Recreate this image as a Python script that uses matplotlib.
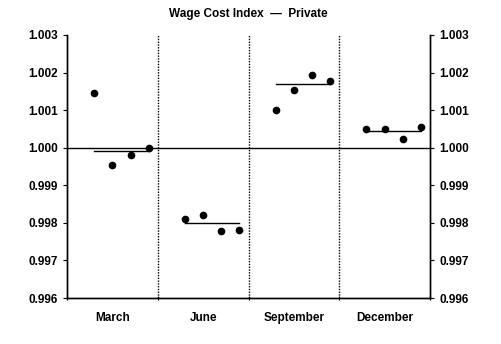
import numpy as np
import matplotlib.pyplot as plt
from matplotlib.ticker import FixedLocator, NullFormatter

plt.rcParams['font.family'] = ['Liberation Sans', 'DejaVu Sans']
plt.rcParams['font.weight'] = 'bold'

quarters = ['March', 'June', 'September', 'December']
# seasonal factors, one per year, for each quarter
march = [1.00146, 0.99954, 0.99981, 1.00000]
june = [0.99809, 0.99822, 0.99778, 0.99780]
september = [1.00100, 1.00153, 1.00194, 1.00178]
december = [1.00049, 1.00049, 1.00022, 1.00055]
means = [0.99991, 0.99799, 1.00170, 1.00044]
yticks = [0.996, 0.997, 0.998, 0.999, 1.000, 1.001, 1.002, 1.003]

series = [march, june, september, december]
offsets = np.array([0.3, 0.5, 0.7, 0.9])

fig = plt.figure(figsize=(5.02, 3.44), dpi=100)
ax = fig.add_axes([0.1335, 0.1337, 0.7231, 0.7646])

for i, vals in enumerate(series):
    xs = i + offsets
    ax.plot(xs, vals, 'o', color='black', ms=4.5, mec='black')
    ax.plot([xs[0], xs[-1]], [means[i], means[i]], color='black', lw=1)

for i in range(1, len(quarters)):
    ax.axvline(i, color='black', lw=1, ls=(0, (1, 1)))
ax.axhline(1.0, color='black', lw=1)

ax.set_xlim(0, len(quarters))
ax.set_ylim(0.996, 1.003)
ax.set_yticks(yticks)
ax.set_yticklabels(['%.3f' % v for v in yticks], fontsize=8.5)

ax.xaxis.set_major_locator(FixedLocator(range(len(quarters) + 1)))
ax.xaxis.set_major_formatter(NullFormatter())
ax.xaxis.set_minor_locator(FixedLocator([i + 0.5 for i in range(len(quarters))]))
ax.set_xticklabels(quarters, minor=True, fontsize=8.5)
ax.tick_params(axis='x', which='minor', length=0, pad=10)
ax.tick_params(axis='x', which='major', length=3, direction='inout', width=0.8)
ax.tick_params(axis='y', length=3, width=0.8)

ax2 = ax.twinx()
ax2.set_ylim(ax.get_ylim())
ax2.set_yticks(yticks)
ax2.set_yticklabels(['%.3f' % v for v in yticks], fontsize=8.5)
ax2.tick_params(axis='y', length=3, width=0.8)

for a in (ax, ax2):
    a.spines['top'].set_visible(False)
    for s in ('left', 'right', 'bottom'):
        a.spines[s].set_linewidth(1)

ax.set_title('Wage Cost Index  \u2014  Private', fontsize=8.5, pad=13,
             fontweight='bold')

fig.savefig('out.png', dpi=100)
